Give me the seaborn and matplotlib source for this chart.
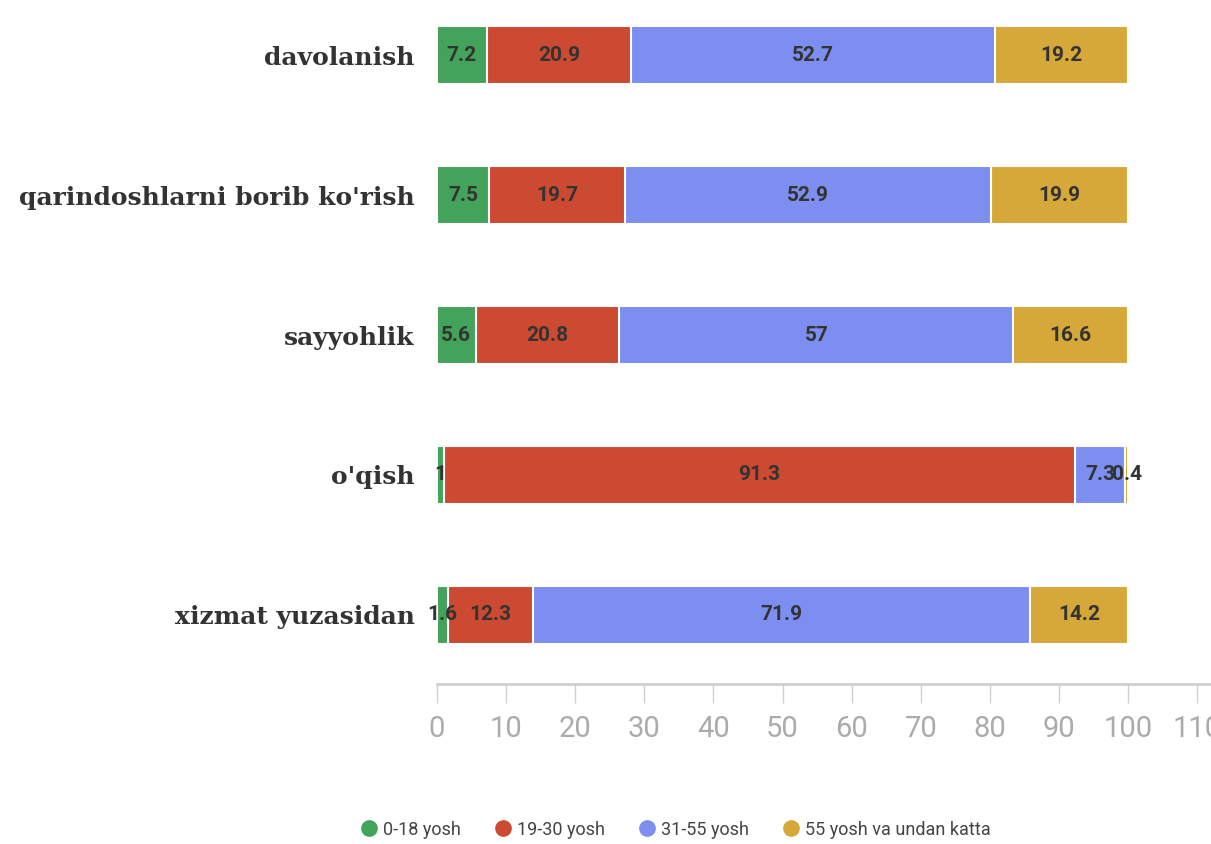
import numpy as np
import pandas as pd
import seaborn as sns
import matplotlib.pyplot as plt
from matplotlib.lines import Line2D

# data (percent)
categories = ["davolanish", "qarindoshlarni borib ko'rish", "sayyohlik", "o'qish", "xizmat yuzasidan"]
age_groups = ["0-18 yosh", "19-30 yosh", "31-55 yosh", "55 yosh va undan katta"]
age_0_18 = [7.2, 7.5, 5.6, 1.0, 1.6]
age_19_30 = [20.9, 19.7, 20.8, 91.3, 12.3]
age_31_55 = [52.7, 52.9, 57.0, 7.3, 71.9]
age_55_plus = [19.2, 19.9, 16.6, 0.4, 14.2]
x_ticks = list(range(0, 111, 10))

colors = ["#43a35a", "#cc4a31", "#7c8ef0", "#d6a83a"]

sns.set_style("white")
narrow = ["Roboto", "DejaVu Sans"]
plt.rcParams["font.family"] = narrow

df = pd.DataFrame({
    "category": categories,
    age_groups[0]: age_0_18,
    age_groups[1]: age_19_30,
    age_groups[2]: age_31_55,
    age_groups[3]: age_55_plus,
})

fig = plt.figure(figsize=(12.11, 8.44), dpi=100)
ax = fig.add_axes([437 / 1211, 160 / 844, 1 - 437 / 1211, 684 / 844])

# stacked bars: draw cumulative totals from the widest down
cum = df[age_groups].cumsum(axis=1)
for i in reversed(range(len(age_groups))):
    sns.barplot(x=cum[age_groups[i]], y=df["category"], color=colors[i], orient="h",
                width=0.41, saturation=1, edgecolor="white", linewidth=1.5, ax=ax)

# segment labels
for row in range(len(categories)):
    left = 0
    for g in age_groups:
        val = df[g].iloc[row]
        ax.text(left + val / 2, row, f"{val:g}", ha="center", va="center",
                fontsize=15, fontweight="bold", color="#333333", family=narrow)
        left += val

ax.set_xlim(0, 112)
ax.set_ylim(4.493, -0.393)
ax.set_xlabel("")
ax.set_ylabel("")
ax.set_xticks(x_ticks)
ax.set_xticklabels([str(t) for t in x_ticks])
ax.tick_params(axis="x", length=14, width=1, color="#d0d0d0", labelcolor="#ababab",
               labelsize=21, pad=8, bottom=True)
ax.tick_params(axis="y", length=0, pad=16)
for lab in ax.get_yticklabels():
    lab.set_family(["DejaVu Serif"])
    lab.set_fontweight("bold")
    lab.set_fontsize(18)
    lab.set_color("#333333")

for s in ["top", "right", "left"]:
    ax.spines[s].set_visible(False)
ax.spines["bottom"].set_color("#d0d0d0")
ax.spines["bottom"].set_linewidth(2)

handles = [Line2D([], [], marker="o", linestyle="", markersize=11, markerfacecolor=c,
                  markeredgecolor=c) for c in colors]
fig.legend(handles, age_groups, loc="center", bbox_to_anchor=(0.557, 0.017), ncol=4,
           frameon=False, fontsize=13, labelcolor="#444444", handletextpad=0.2,
           columnspacing=1.7, borderaxespad=0, handlelength=1.2)

fig.savefig("out.png", dpi=100)
